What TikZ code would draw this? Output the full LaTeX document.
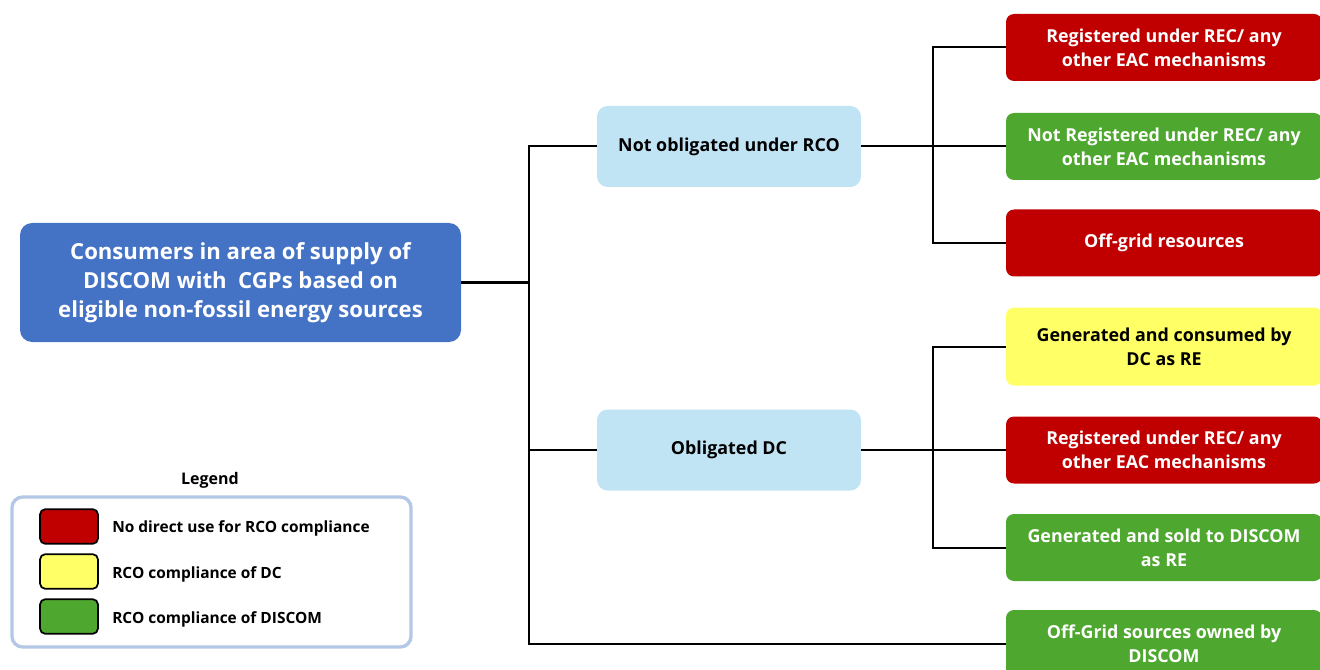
\documentclass[tikz,border=0pt]{standalone}
\usepackage{fontspec}
\setmainfont{Open Sans}
\usetikzlibrary{positioning}
\definecolor{mainblue}{HTML}{4472C4}
\definecolor{paleblue}{HTML}{C1E4F5}
\definecolor{optred}{HTML}{C00000}
\definecolor{optgreen}{HTML}{4EA72E}
\definecolor{optyellow}{HTML}{FFFF66}
\definecolor{legendedge}{HTML}{B4C7E7}
\tikzset{
  rootbox/.style={fill=mainblue, text=white, rounded corners=9pt, minimum width=330.75pt,
    minimum height=89.25pt, align=center, font=\bfseries\fontsize{16.6}{21.75}\selectfont},
  midbox/.style={fill=paleblue, text=black, rounded corners=8pt, minimum width=198pt,
    minimum height=60.75pt, align=center, font=\bfseries\fontsize{13.4}{18}\selectfont},
  leafbox/.style={rounded corners=6pt, minimum width=237pt, minimum height=50.25pt,
    align=center, font=\bfseries\fontsize{13.4}{18}\selectfont},
  redleaf/.style={leafbox, fill=optred, text=white},
  greenleaf/.style={leafbox, fill=optgreen, text=white},
  yellowleaf/.style={leafbox, fill=optyellow, text=black, minimum height=58.5pt},
  link/.style={draw=black, line width=1.5pt},
  swatch/.style={draw=black, line width=1.3pt, rounded corners=4pt, minimum width=43.5pt, minimum height=26pt},
  legtext/.style={anchor=west, font=\bfseries\fontsize{11.6}{13}\selectfont, inner sep=0pt}
}
\begin{document}
\begin{tikzpicture}[x=0.75pt,y=-0.75pt]
\useasboundingbox (0,0) rectangle (1320,670);
\clip (0,0) rectangle (1320,670);

% root and first level
\node[rootbox] (root) at (240.5,282.5) {Consumers in area of supply of\\DISCOM with\ \ CGPs based on\\eligible non-fossil energy sources};
\node[midbox] (nob) at (729,146.5) {Not obligated under RCO};
\node[midbox] (obl) at (729,450) {Obligated DC};

% leaves
\node[redleaf]    (b1) at (1164,47.5)  {Registered under REC/ any\\other EAC mechanisms};
\node[greenleaf]  (b2) at (1164,146.5) {Not Registered under REC/ any\\other EAC mechanisms};
\node[redleaf]    (b3) at (1164,243)   {Off-grid resources};
\node[yellowleaf] (b4) at (1164,346.5) {Generated and consumed by\\DC as RE};
\node[redleaf]    (b5) at (1164,450)   {Registered under REC/ any\\other EAC mechanisms};
\node[greenleaf]  (b6) at (1164,547.5) {Generated and sold to DISCOM\\as RE};
\node[greenleaf]  (b7) at (1164,643.5) {Off-Grid sources owned by\\DISCOM};

% connectors
\coordinate (t0) at (529,282.5);
\coordinate (t1) at (933,146.5);
\coordinate (t2) at (933,450);
\draw[link] (root.east) -- (t0);
\draw[link] (t0) |- (nob.west);
\draw[link] (t0) |- (obl.west);
\draw[link] (t0) |- (b7.west);
\draw[link] (nob.east) -- (t1);
\draw[link] (t1) |- (b1.west);
\draw[link] (t1) |- (b2.west);
\draw[link] (t1) |- (b3.west);
\draw[link] (obl.east) -- (t2);
\draw[link] (t2) |- (b4.west);
\draw[link] (t2) |- (b5.west);
\draw[link] (t2) |- (b6.west);

% legend
\node[font=\bfseries\fontsize{12}{13}\selectfont] (lgt) at (210,480) {Legend};
\draw[draw=legendedge, line width=2.5pt, rounded corners=8pt] (12,497) rectangle (411,647);
\node[swatch, fill=optred]    (s1) at (69,526.5) {};
\node[swatch, fill=optyellow] (s2) at (69,571.5) {};
\node[swatch, fill=optgreen]  (s3) at (69,616.5) {};
\node[legtext] (l1) at (112,528) {No direct use for RCO compliance};
\node[legtext] (l2) at (112,574) {RCO compliance of DC};
\node[legtext] (l3) at (112,619) {RCO compliance of DISCOM};
\end{tikzpicture}
\end{document}
